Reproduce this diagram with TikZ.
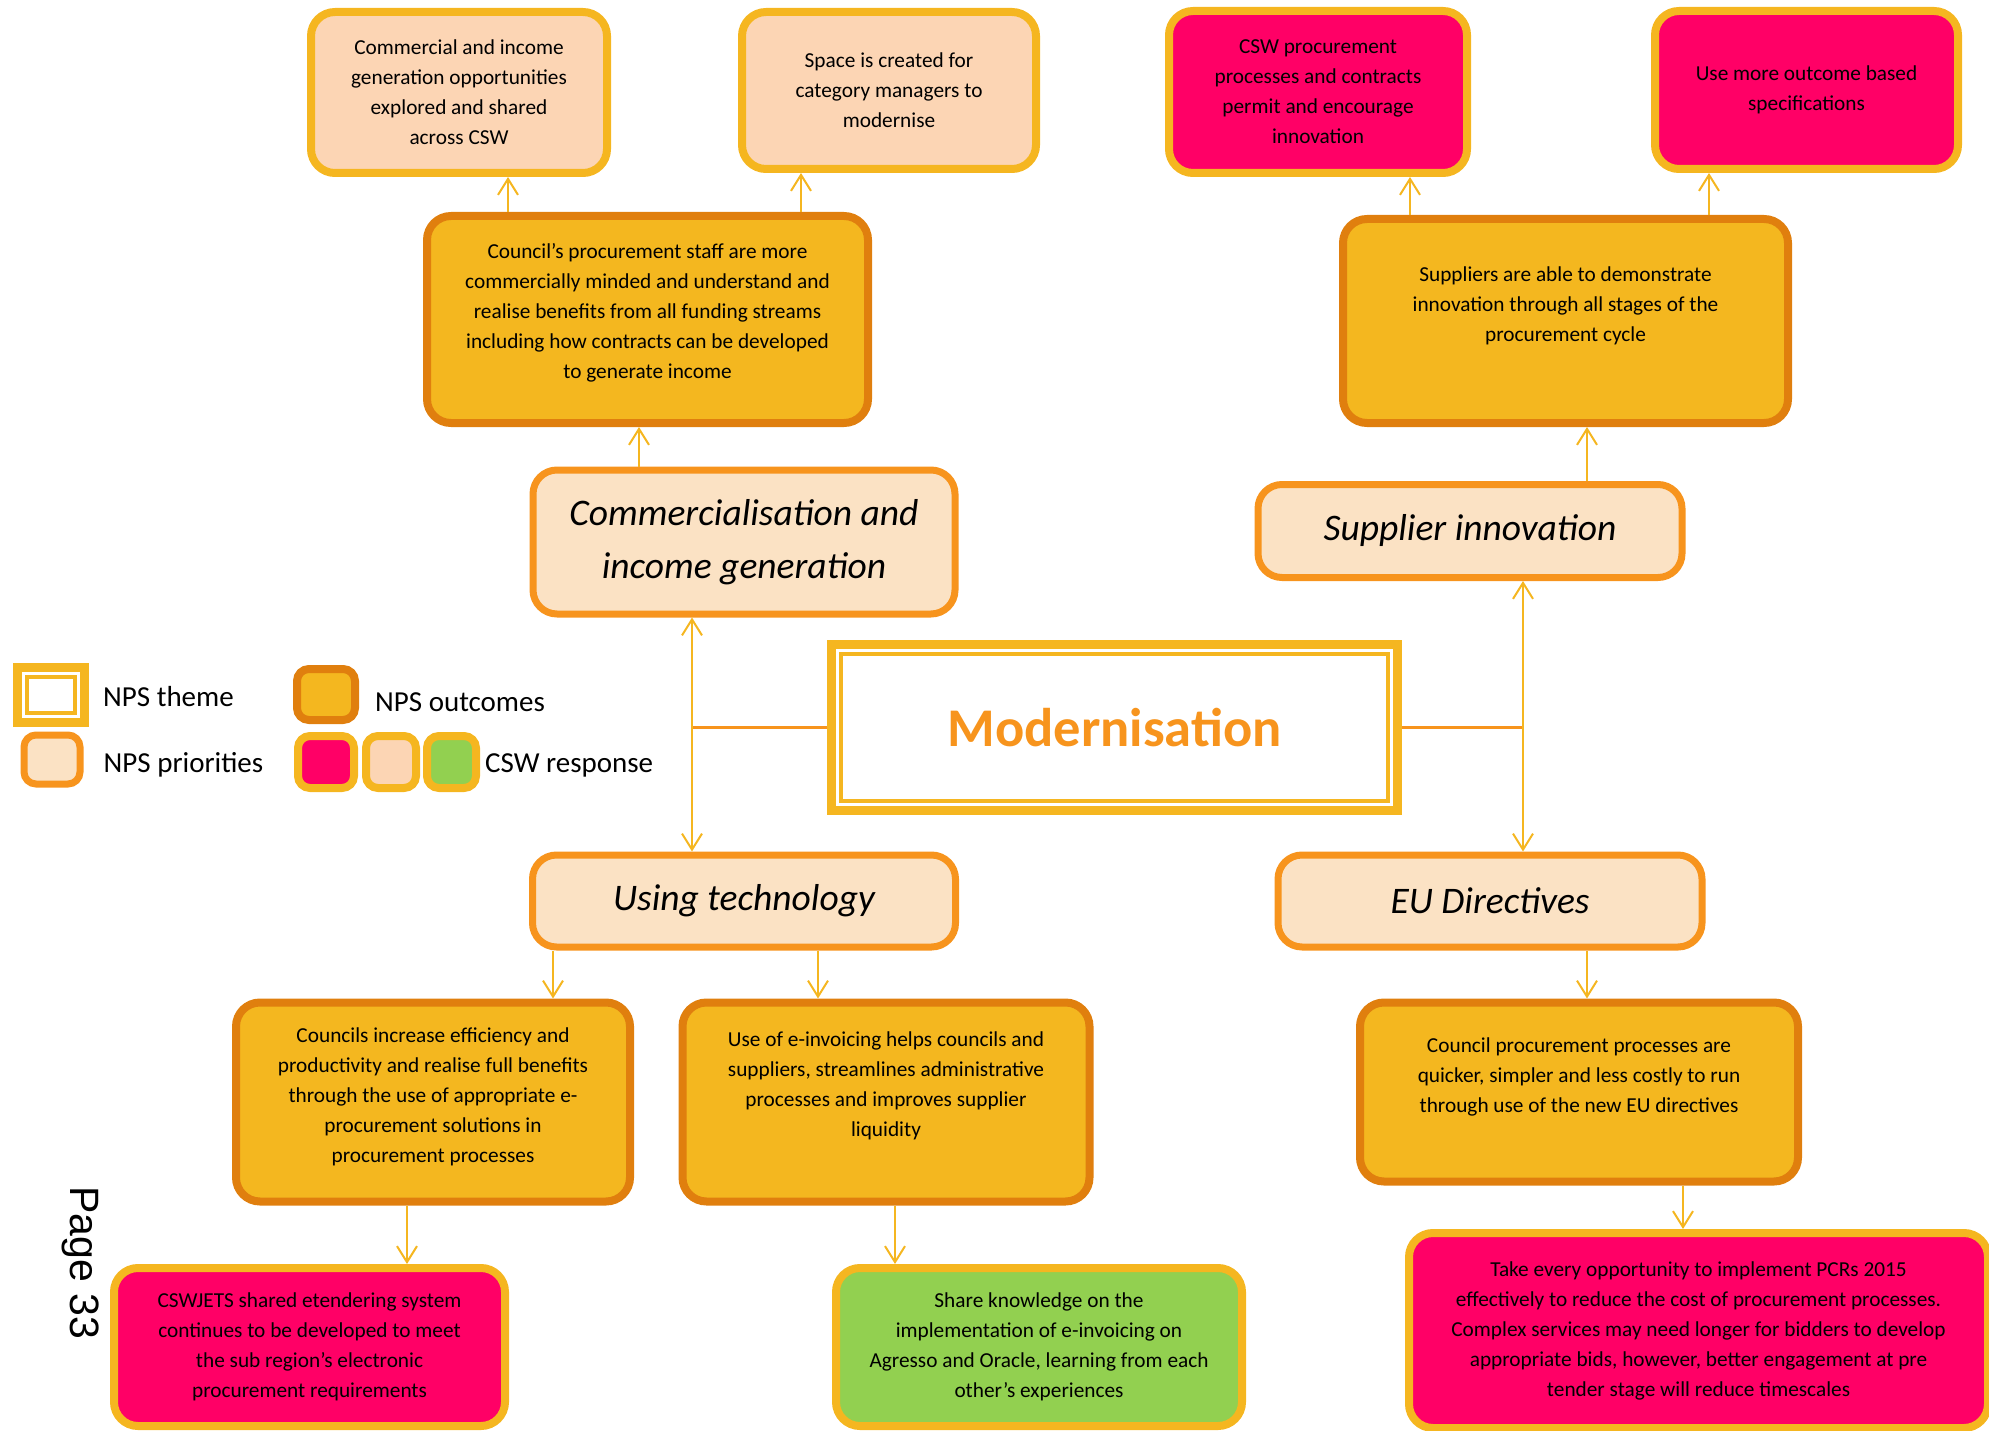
\documentclass[tikz,border=0pt]{standalone}
\usepackage{fontspec}
\setmainfont{Carlito}
\newfontfamily\pagefont{Liberation Sans}
\usetikzlibrary{arrows.meta, positioning}

\definecolor{cswedge}{HTML}{F5B620}
\definecolor{outedge}{HTML}{E07F0E}
\definecolor{outfill}{HTML}{F4B71F}
\definecolor{prioedge}{HTML}{F7941D}
\definecolor{priofill}{HTML}{FBE2C4}
\definecolor{cswpink}{HTML}{FF0066}
\definecolor{cswpeach}{HTML}{FCD5B4}
\definecolor{cswgreen}{HTML}{92D050}

\begin{document}
\begin{tikzpicture}[x=1pt, y=-1pt,
    box/.style = {rounded corners=24pt, line width=8pt, align=center, inner sep=0pt, font=\fontsize{21.3}{30}\selectfont},
    cswbox/.style = {box, draw=cswedge},
    pinkbox/.style = {cswbox, fill=cswpink},
    peachbox/.style = {cswbox, fill=cswpeach},
    greenbox/.style = {cswbox, fill=cswgreen},
    outcome/.style = {box, draw=outedge, fill=outfill},
    priority/.style = {box, line width=7pt, draw=prioedge, fill=priofill, font=\fontsize{37.5}{53}\selectfont\itshape},
    theme/.style = {draw=cswedge, line width=9pt, inner sep=0pt, font=\fontsize{54.5}{60}\selectfont\bfseries, text=prioedge},
    lift/.style = {text depth=#1},
    size/.style 2 args = {minimum width=#1, minimum height=#2},
    legtext/.style = {inner sep=0pt, font=\fontsize{29}{34}\selectfont},
    link/.style = {draw=cswedge, line width=2pt, -{Straight Barb[length=16pt, width=20pt]}},
    twoway/.style = {draw=cswedge, line width=2pt, {Straight Barb[length=16pt, width=20pt]}-{Straight Barb[length=16pt, width=20pt]}},
    stem/.style = {draw=prioedge, line width=2.5pt}]
    \useasboundingbox (0,0) rectangle (1989,1431);
    \clip (0,0) rectangle (1989,1431);

    % theme
    \node[theme, size={566pt}{166pt}] (theme) at (1114.5,727.5) {Modernisation};
    \draw[cswedge, line width=3.5pt] ([shift={(14,14)}]theme.north west) rectangle ([shift={(-14,-14)}]theme.south east);

    % priorities
    \node[priority, size={422pt}{144pt}] (commerce) at (744,542) {Commercialisation and\\income generation};
    \node[priority, size={424pt}{93pt}] (supinno) at (1470,531) {Supplier innovation};
    \node[priority, size={423pt}{92pt}] (usetech) at (744,901) {Using technology};
    \node[priority, size={424pt}{92pt}] (eudir) at (1490,901) {EU Directives};

    % outcomes
    \node[outcome, size={441pt}{207pt}, lift=18pt] (staff) at (647.5,319.5) {Council’s procurement staff are more\\commercially minded and understand and\\realise benefits from all funding streams\\including how contracts can be developed\\to generate income};
    \node[outcome, size={445pt}{204pt}, lift=34pt] (suppl) at (1565.5,321) {Suppliers are able to demonstrate\\innovation through all stages of the\\procurement cycle};
    \node[outcome, size={394pt}{199pt}, lift=14pt] (effic) at (433,1102) {Councils increase efficiency and\\productivity and realise full benefits\\through the use of appropriate e-\\procurement solutions in\\procurement processes};
    \node[outcome, size={407pt}{199pt}, lift=36pt] (einv) at (886,1102) {Use of e-invoicing helps councils and\\suppliers, streamlines administrative\\processes and improves supplier\\liquidity};
    \node[outcome, size={438pt}{179pt}, lift=34pt] (euproc) at (1579,1092) {Council procurement processes are\\quicker, simpler and less costly to run\\through use of the new EU directives};

    % CSW response
    \node[peachbox, size={296pt}{161pt}] (comms) at (459,92.5) {Commercial and income\\generation opportunities\\explored and shared\\across CSW};
    \node[peachbox, size={294pt}{157pt}] (space) at (889,90.5) {Space is created for\\category managers to\\modernise};
    \node[pinkbox, size={298pt}{162pt}] (cswproc) at (1318,92) {CSW procurement\\processes and contracts\\permit and encourage\\innovation};
    \node[pinkbox, size={303pt}{158pt}] (outspec) at (1806.5,90) {Use more outcome based\\specifications};
    \node[pinkbox, size={391pt}{158pt}] (jets) at (309.5,1347) {CSWJETS shared etendering system\\continues to be developed to meet\\the sub region’s electronic\\procurement requirements};
    \node[greenbox, size={406pt}{158pt}] (share) at (1039,1347) {Share knowledge on the\\implementation of e-invoicing on\\Agresso and Oracle, learning from each\\other’s experiences};
    \node[pinkbox, size={579pt}{195pt}] (pcrs) at (1698.5,1330.5) {Take every opportunity to implement PCRs 2015\\effectively to reduce the cost of procurement processes.\\Complex services may need longer for bidders to develop\\appropriate bids, however, better engagement at pre\\tender stage will reduce timescales};

    % legend
    \node[theme, size={67pt}{55pt}] (legtheme) at (51,695) {};
    \draw[cswedge, line width=3.5pt] ([shift={(14,14)}]legtheme.north west) rectangle ([shift={(-14,-14)}]legtheme.south east);
    \node[priority, rounded corners=12pt, size={56pt}{49pt}] (legprio) at (52,759.5) {};
    \node[outcome, rounded corners=12pt, size={58pt}{51pt}] (legout) at (326,694.5) {};
    \node[pinkbox, rounded corners=12pt, size={56pt}{52pt}] (legpink) at (326,762) {};
    \node[peachbox, rounded corners=12pt, size={50pt}{52pt}] (legpeach) at (391,762) {};
    \node[greenbox, rounded corners=12pt, size={49pt}{52pt}] (leggreen) at (451.5,762) {};
    \node[legtext, right=14pt of legtheme, yshift=-2pt] (txttheme) {NPS theme};
    \node[legtext, right=20pt of legprio, yshift=-5pt] (txtprio) {NPS priorities};
    \node[legtext, right=16pt of legout, yshift=-8pt] (txtout) {NPS outcomes};
    \node[legtext, right=5pt of leggreen, yshift=-3pt] (txtcsw) {CSW response};

    \node[rotate=-90, font=\pagefont\fontsize{41}{48}\selectfont] (pagelbl) at (81,1263) {Page 33};

    % arrow columns
    \coordinate (ca) at (508,0);
    \coordinate (cb) at (801,0);
    \coordinate (cg) at (639,0);
    \coordinate (cc) at (1410,0);
    \coordinate (cd) at (1709,0);
    \coordinate (ch) at (1587,0);
    \coordinate (cl) at (692,0);
    \coordinate (cr) at (1523,0);
    \coordinate (cj) at (553,0);
    \coordinate (cm) at (818,0);
    \coordinate (ck) at (1587,0);
    \coordinate (co) at (407,0);
    \coordinate (cp) at (895,0);
    \coordinate (cq) at (1683,0);

    \draw[link] (staff.north -| ca) -- (comms.south -| ca);
    \draw[link] (staff.north -| cb) -- (space.south -| cb);
    \draw[link] (commerce.north -| cg) -- (staff.south -| cg);
    \draw[link] (suppl.north -| cc) -- (cswproc.south -| cc);
    \draw[link] (suppl.north -| cd) -- (outspec.south -| cd);
    \draw[link] (supinno.north -| ch) -- (suppl.south -| ch);

    \draw[stem] (theme.west) -- (theme.west -| cl);
    \draw[stem] (theme.east) -- (theme.east -| cr);
    \draw[twoway] (commerce.south -| cl) -- (usetech.north -| cl);
    \draw[twoway] (supinno.south -| cr) -- (eudir.north -| cr);

    \draw[link] (usetech.south -| cj) -- (effic.north -| cj);
    \draw[link] (usetech.south -| cm) -- (einv.north -| cm);
    \draw[link] (eudir.south -| ck) -- (euproc.north -| ck);
    \draw[link] (effic.south -| co) -- (jets.north -| co);
    \draw[link] (einv.south -| cp) -- (share.north -| cp);
    \draw[link] (euproc.south -| cq) -- (pcrs.north -| cq);
\end{tikzpicture}
\end{document}
